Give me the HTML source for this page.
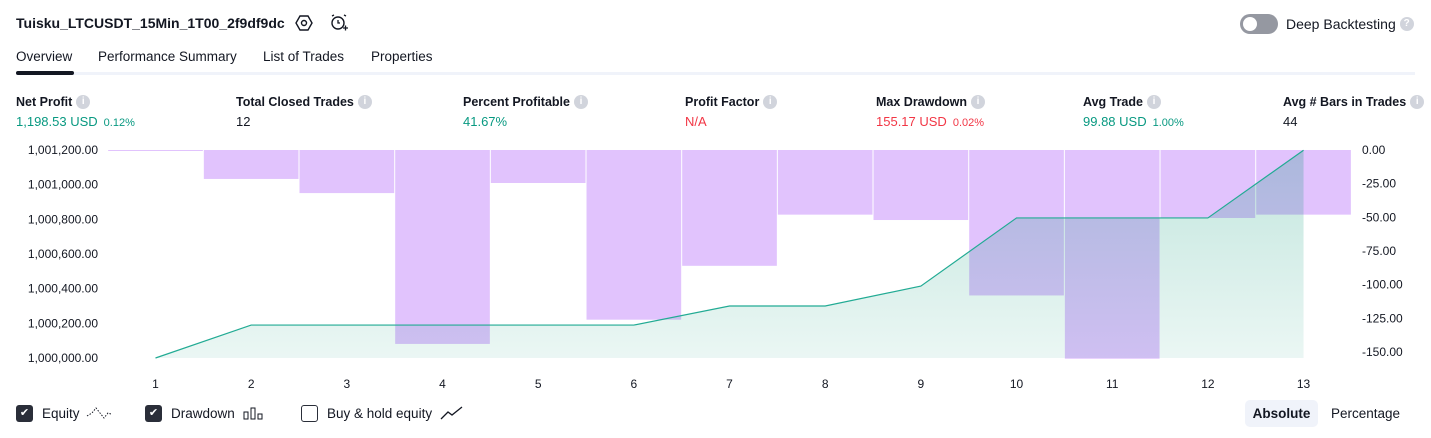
<!DOCTYPE html>
<html><head><meta charset="utf-8">
<style>
body{margin:0;width:1431px;height:438px;background:#fff;font-family:"Liberation Sans",sans-serif;color:#131722;position:relative;overflow:hidden}
.a{position:absolute;white-space:nowrap}
.lbl{font-size:12.5px;font-weight:bold;color:#131722;display:flex;align-items:center;height:15px}
.val{font-size:13px}
.info{display:inline-block;width:14px;height:14px;border-radius:50%;background:#d1d4dc;color:#fff;font-size:10px;font-weight:bold;text-align:center;line-height:14px;margin-left:4px}
.g{color:#089981}.r{color:#f23645}
.pct{font-size:11px;margin-left:6px}
.tab{font-size:13.5px;top:49px}
.leg{display:flex;align-items:center;font-size:13.5px;top:404px;height:18px}
.cb{display:inline-block;width:17px;height:17px;border-radius:3px;margin-right:9px;box-sizing:border-box}
</style></head><body>
<div class="a" style="left:16px;top:15px;font-size:14px;font-weight:bold">Tuisku_LTCUSDT_15Min_1T00_2f9df9dc</div>
<svg class="a" style="left:295px;top:14px" width="18" height="18" viewBox="0 0 18 18"><polygon points="5,2 13,2 17,9 13,16 5,16 1,9" fill="none" stroke="#131722" stroke-width="1.4"/><circle cx="9" cy="9" r="2.5" fill="none" stroke="#131722" stroke-width="1.4"/></svg>
<svg class="a" style="left:329px;top:13px" width="20" height="20" viewBox="0 0 20 20"><circle cx="9" cy="10" r="6" fill="none" stroke="#131722" stroke-width="1.4"/><path d="M9 7v3h2M3 3l2-1M15 2l2 1M14 15h5M16.5 12.5v5" stroke="#131722" stroke-width="1.3" fill="none"/></svg>
<div class="a" style="left:1240px;top:14px;width:38px;height:20px;border-radius:10px;background:#9598a1"><div style="position:absolute;left:3px;top:3px;width:14px;height:14px;border-radius:50%;background:#fff"></div></div>
<div class="a" style="left:1286px;top:16px;font-size:14px;display:flex;align-items:center">Deep Backtesting<span class="info">?</span></div>

<div class="a tab" style="left:16px">Overview</div>
<div class="a tab" style="left:98px">Performance Summary</div>
<div class="a tab" style="left:263px">List of Trades</div>
<div class="a tab" style="left:371px">Properties</div>
<div class="a" style="left:16px;top:72px;width:1399px;height:3px;background:#f0f3fa"></div>
<div class="a" style="left:16px;top:71px;width:58px;height:4px;border-radius:2px;background:#131722"></div>

<div class="a" style="left:16px;top:94px"><div class="lbl">Net Profit<span class="info">i</span></div><div class="val g" style="margin-top:5px">1,198.53 USD<span class="pct">0.12%</span></div></div>
<div class="a" style="left:236px;top:94px"><div class="lbl">Total Closed Trades<span class="info">i</span></div><div class="val" style="margin-top:5px">12</div></div>
<div class="a" style="left:463px;top:94px"><div class="lbl">Percent Profitable<span class="info">i</span></div><div class="val g" style="margin-top:5px">41.67%</div></div>
<div class="a" style="left:685px;top:94px"><div class="lbl">Profit Factor<span class="info">i</span></div><div class="val r" style="margin-top:5px">N/A</div></div>
<div class="a" style="left:876px;top:94px"><div class="lbl">Max Drawdown<span class="info">i</span></div><div class="val r" style="margin-top:5px">155.17 USD<span class="pct">0.02%</span></div></div>
<div class="a" style="left:1083px;top:94px"><div class="lbl">Avg Trade<span class="info">i</span></div><div class="val g" style="margin-top:5px">99.88 USD<span class="pct">1.00%</span></div></div>
<div class="a" style="left:1283px;top:94px"><div class="lbl">Avg # Bars in Trades<span class="info">i</span></div><div class="val" style="margin-top:5px">44</div></div>

<svg class="a" id="chart" style="left:0;top:135px" width="1431" height="260"></svg>

<div class="a leg" style="left:16px"><span class="cb" style="background:#2a2e39;color:#fff;font-size:11px;text-align:center;line-height:17px">✔</span>Equity<svg width="26" height="14" style="margin-left:6px"><path d="M1 10L6 7 10 2 14 7 18 12 22 7 25 8" fill="none" stroke="#131722" stroke-width="1" stroke-dasharray="1.5 1.5"/></svg></div>
<div class="a leg" style="left:145px"><span class="cb" style="background:#2a2e39;color:#fff;font-size:11px;text-align:center;line-height:17px">✔</span>Drawdown<svg width="20" height="14" style="margin-left:8px"><rect x="1" y="6" width="4" height="7" fill="none" stroke="#131722"/><rect x="8" y="2" width="4" height="11" fill="none" stroke="#131722"/><rect x="15" y="8" width="4" height="5" fill="none" stroke="#131722"/></svg></div>
<div class="a leg" style="left:301px"><span class="cb" style="border:1px solid #2a2e39;"></span>Buy &amp; hold equity<svg width="24" height="14" style="margin-left:8px"><path d="M1 13L8 6 12 9 22 1" fill="none" stroke="#131722" stroke-width="1.3"/></svg></div>
<div class="a" style="left:1245px;top:400px;width:73px;height:27px;border-radius:5px;background:#f0f3fa;font-size:13.5px;font-weight:bold;text-align:center;line-height:27px">Absolute</div>
<div class="a" style="left:1331px;top:406px;font-size:13.5px">Percentage</div>

<script>
const categories=[1,2,3,4,5,6,7,8,9,10,11,12,13];
const equity=[1000000,1000190,1000190,1000190,1000190,1000190,1000300,1000300,1000415,1000808,1000808,1000808,1001198.5];
const drawdown=[0,-21.5,-32,-144,-24.5,-126,-86,-48,-52,-108,-155,-50.5,-48];
const leftTicks=[1000000,1000200,1000400,1000600,1000800,1001000,1001200];
const rightTicks=[0,-25,-50,-75,-100,-125,-150];
const NS="http://www.w3.org/2000/svg";
const svg=document.getElementById('chart');
const OY=135;
const x=i=>155.5+(i-1)*95.67;
const yL=v=>358-OY-(v-1000000)*(208/1200);
const yR=v=>150-OY-v*(202/150);
function mk(t,a){const e=document.createElementNS(NS,t);for(const k in a)e.setAttribute(k,a[k]);svg.appendChild(e);return e;}
const defs=mk('defs',{});
defs.innerHTML='<linearGradient id="eg" x1="0" y1="0" x2="0" y2="1"><stop offset="0" stop-color="rgb(0,150,115)" stop-opacity="0.24"/><stop offset="1" stop-color="rgb(0,150,115)" stop-opacity="0.08"/></linearGradient>';
const bw=95.67;
categories.forEach((c,i)=>{
 const r=mk('rect',{x:x(c)-bw/2+0.5,y:yR(0),width:bw-1,height:Math.max(1,yR(drawdown[i])-yR(0)),fill:'#e1c3fd'});
 
 
});
let pts=categories.map((c,i)=>x(c)+','+yL(equity[i])).join(' ');
const area=mk('polygon',{points:x(1)+','+yL(1000000)+' '+pts+' '+x(13)+','+yL(1000000),fill:'url(#eg)'});


const line=mk('polyline',{points:pts,fill:'none',stroke:'#22ab94','stroke-width':1.2});


leftTicks.forEach(v=>{const t=mk('text',{x:98,y:yL(v)+4,'text-anchor':'end','font-size':12,fill:'#131722'});t.textContent=v.toLocaleString('en-US',{minimumFractionDigits:2});

});
rightTicks.forEach(v=>{const t=mk('text',{x:1362,y:yR(v)+4,'font-size':12,fill:'#131722'});t.textContent=v.toFixed(2);

});
categories.forEach(c=>{const t=mk('text',{x:x(c),y:388-OY,'text-anchor':'middle','font-size':12,fill:'#131722'});t.textContent=c;

});
</script>
</body></html>
